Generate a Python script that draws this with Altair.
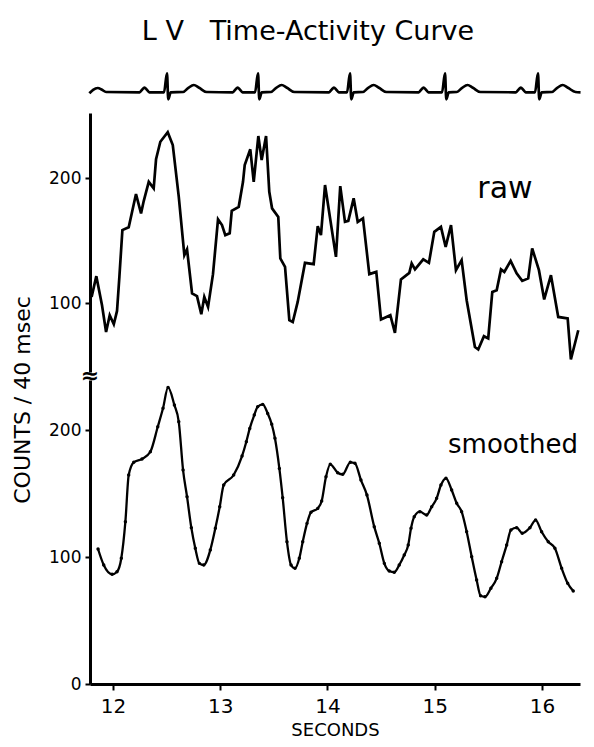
import altair as alt
import pandas as pd

# ---------------- data ----------------
raw_t = [11.800, 11.844, 11.897, 11.935, 11.969, 12.007, 12.037, 12.059, 12.087, 12.146,
         12.214, 12.261, 12.286, 12.333, 12.379, 12.401, 12.441, 12.510, 12.557, 12.613,
         12.665, 12.690, 12.737, 12.783, 12.823, 12.851, 12.886, 12.932, 12.979, 13.016,
         13.047, 13.088, 13.107, 13.172, 13.212, 13.228, 13.280, 13.312, 13.355, 13.386,
         13.427, 13.457, 13.483, 13.541, 13.560, 13.604, 13.644, 13.676, 13.722, 13.790,
         13.871, 13.909, 13.939, 13.977, 14.079, 14.119, 14.163, 14.194, 14.244, 14.282,
         14.331, 14.390, 14.455, 14.499, 14.586, 14.629, 14.685, 14.763, 14.785, 14.816,
         14.893, 14.946, 14.996, 15.058, 15.102, 15.152, 15.198, 15.251, 15.298, 15.375,
         15.406, 15.459, 15.499, 15.537, 15.578, 15.618, 15.649, 15.708, 15.764, 15.816,
         15.872, 15.909, 15.972, 16.021, 16.084, 16.152, 16.240, 16.270, 16.339]
raw_counts = [105, 121.6, 98.4, 77, 90.4, 83.2, 93.8, 121, 158.4, 160.6,
              187.2, 171.8, 181.6, 197, 191.8, 215, 229, 236.6, 226.4, 185,
              138.4, 143, 107.8, 105.6, 91.2, 105, 97, 123.2, 167, 162.4,
              154.4, 155.8, 173.8, 177, 197, 210.4, 223, 197, 233.6, 214.4,
              233.6, 189, 175.8, 169, 135.8, 129, 86.4, 85, 101, 132.2,
              131.2, 161.6, 154.4, 194.4, 137, 193.6, 165, 165.8, 183.8, 165,
              167.8, 123.2, 125, 87, 90.4, 76.2, 119, 124.2, 131.8, 127,
              135, 132.2, 157, 161, 145, 162.4, 126.4, 134.4, 102.4, 65,
              63, 73.6, 71.8, 109, 110.4, 127, 125, 133.8, 123.8, 117.8,
              119.8, 143.8, 126.4, 103, 122.4, 89, 87.8, 55, 78.4]

smooth_t = [11.860, 11.913, 11.991, 12.037, 12.077, 12.115, 12.146, 12.193, 12.270, 12.348,
            12.417, 12.466, 12.513, 12.572, 12.613, 12.653, 12.690, 12.730, 12.767, 12.805,
            12.846, 12.907, 12.954, 12.995, 13.032, 13.125, 13.203, 13.243, 13.275, 13.317,
            13.349, 13.396, 13.442, 13.480, 13.510, 13.551, 13.582, 13.622, 13.660, 13.697,
            13.737, 13.769, 13.809, 13.846, 13.909, 13.946, 13.986, 14.026, 14.095, 14.142,
            14.213, 14.256, 14.312, 14.368, 14.436, 14.483, 14.530, 14.576, 14.623, 14.669,
            14.716, 14.753, 14.779, 14.809, 14.862, 14.925, 14.972, 15.018, 15.058, 15.105,
            15.158, 15.205, 15.251, 15.298, 15.345, 15.391, 15.428, 15.469, 15.524, 15.578,
            15.624, 15.671, 15.711, 15.764, 15.816, 15.888, 15.941, 15.997, 16.059, 16.121,
            16.184, 16.240, 16.292]
smooth_counts = [106.3, 93.7, 86.4, 88.4, 99, 127.8, 164.6, 174.6, 177.2, 182.9,
                 202.6, 217.1, 233.6, 219.7, 206.5, 168.5, 147.5, 123.1, 106.9, 95,
                 93.7, 105.5, 122.6, 139.6, 156.7, 164.6, 179.5, 190.8, 201.3, 211.8,
                 218.3, 220.2, 213.1, 204.5, 193.5, 169.8, 146.7, 112, 93.7, 91.1,
                 99, 112, 126.5, 135.2, 138.3, 144.1, 163.2, 173, 166.4, 165.1,
                 174.6, 173.8, 160.6, 148.8, 123.9, 110.8, 95, 89, 88, 93.7,
                 101.6, 109.4, 122.6, 131.7, 135.7, 133.1, 139.6, 146.2, 156.7, 162,
                 152.8, 142.3, 135.7, 119.9, 100.2, 81.9, 69.5, 68.7, 75.4, 83.2,
                 96.3, 109.4, 121.3, 123.1, 118.7, 123.1, 129.1, 119.9, 112, 106.9,
                 91.1, 79.3, 73.2]

# ECG trace
ecg_lead_t = [11.779, 11.814, 11.857, 11.897, 11.935]
ecg_lead_amp = [-1, 2.5, 4.3, 2.5, 0.3]
beat_r = [12.503, 13.352, 14.210, 15.096, 15.963]
p_offset = [-0.21, -0.19, -0.15, -0.20, -0.16]
t_offset = [0.25, 0.22, 0.22, 0.21, 0.23]
p_dt = [-0.045, -0.022, 0.0, 0.022, 0.045]
p_amp = [0, 2.6, 4.6, 2.6, 0]
qrs_dt = [-0.028, 0.0, 0.012, 0.035]
qrs_amp = [0, 19, -7, 0]
tw_dt = [-0.10, -0.05, 0.0, 0.05, 0.12]
tw_amp = [0.3, 4.5, 7.3, 4.5, 0.3]
ecg_end_t = 16.36

x_ticks = [12, 13, 14, 15, 16]
raw_ticks = [100, 200]
smooth_ticks = [0, 100, 200]

# ---------------- tables ----------------
raw_df = pd.DataFrame({"t": raw_t, "counts": raw_counts})
smooth_df = pd.DataFrame({"t": smooth_t, "counts": smooth_counts})

et, ea = list(ecg_lead_t), list(ecg_lead_amp)
for r, po, to in zip(beat_r, p_offset, t_offset):
    et += [r + po + d for d in p_dt]; ea += p_amp
    et += [r + d for d in qrs_dt]; ea += qrs_amp
    et += [r + to + d for d in tw_dt]; ea += tw_amp
et.append(ecg_end_t); ea.append(0)
ecg_df = pd.DataFrame({"t": et, "amp": ea})

FONT = "DejaVu Sans"
W = 490
xs = alt.Scale(domain=[11.785, 16.355], nice=False, zero=False)

ecg = alt.Chart(ecg_df).mark_line(color="black", strokeWidth=2.7, interpolate="monotone").encode(
    x=alt.X("t:Q", scale=xs, axis=None),
    y=alt.Y("amp:Q", scale=alt.Scale(domain=[-12.7, 27.3], nice=False, zero=False), axis=None),
).properties(width=W, height=40)

raw_y = alt.Y("counts:Q", scale=alt.Scale(domain=[45, 252], nice=False, zero=False),
              axis=alt.Axis(values=raw_ticks, title=None, domainWidth=3, tickWidth=2,
                            tickSize=5, labelFontSize=17, labelPadding=4, grid=False))
raw_line = alt.Chart(raw_df).mark_line(color="black", strokeWidth=2.7).encode(
    x=alt.X("t:Q", scale=xs, axis=None), y=raw_y)
raw_lab = alt.Chart(pd.DataFrame({"t": [15.655], "counts": [184], "label": ["raw"]})).mark_text(
    font=FONT, fontSize=30, align="center", baseline="alphabetic", color="black").encode(
    x=alt.X("t:Q", scale=xs, axis=None), y=raw_y, text="label:N")
raw_panel = alt.layer(raw_line, raw_lab).properties(width=W, height=259)

sm_y = alt.Y("counts:Q", scale=alt.Scale(domain=[0, 239.4], nice=False, zero=False),
             axis=alt.Axis(values=smooth_ticks, title=None, domainWidth=3, tickWidth=2,
                           tickSize=5, labelFontSize=17, labelPadding=4, grid=False))
sm_x = alt.X("t:Q", scale=xs,
             axis=alt.Axis(values=x_ticks, format="d", title="SECONDS", domainWidth=3,
                           tickWidth=2, tickSize=6, labelFontSize=20, labelPadding=6,
                           titleFontSize=18, titlePadding=5, titleFontWeight="normal",
                           grid=False))
sm_line = alt.Chart(smooth_df).mark_line(
    color="black", strokeWidth=2.3, interpolate="monotone",
    point=alt.OverlayMarkDef(filled=True, size=12, color="black")).encode(x=sm_x, y=sm_y)
sm_lab = alt.Chart(pd.DataFrame({"t": [15.73], "counts": [181.9], "label": ["smoothed"]})).mark_text(
    font=FONT, fontSize=26, align="center", baseline="alphabetic", color="black").encode(
    x=alt.X("t:Q", scale=xs), y=sm_y, text="label:N")
ytitle = alt.Chart(pd.DataFrame({"label": ["COUNTS / 40 msec"]})).mark_text(
    font=FONT, fontSize=22, angle=270, align="center", baseline="middle", color="black").encode(
    x=alt.value(-67), y=alt.value(20), text="label:N")
brk = alt.Chart(pd.DataFrame({"label": ["≈"]})).mark_text(
    font=FONT, fontSize=22, fontWeight="bold", align="center", baseline="middle", color="black").encode(
    x=alt.value(0), y=alt.value(-4), text="label:N")
sm_panel = alt.layer(sm_line, sm_lab, ytitle, brk).properties(width=W, height=304)

chart = alt.vconcat(ecg, raw_panel, sm_panel, spacing=8, bounds="flush").properties(
    title=alt.TitleParams(text="L V\u00a0\u00a0\u00a0Time-Activity Curve", font=FONT, fontSize=27,
                          fontWeight="normal", anchor="middle", offset=19, dx=9, color="black"),
    padding={"left": 3, "top": 10, "right": 0, "bottom": 0},
    background="white",
).configure_view(stroke=None).configure_axis(
    domainColor="black", tickColor="black", labelColor="black", titleColor="black",
    labelFont=FONT, titleFont=FONT)

chart.save("out.html", embed_options={"renderer": "svg", "actions": False})
